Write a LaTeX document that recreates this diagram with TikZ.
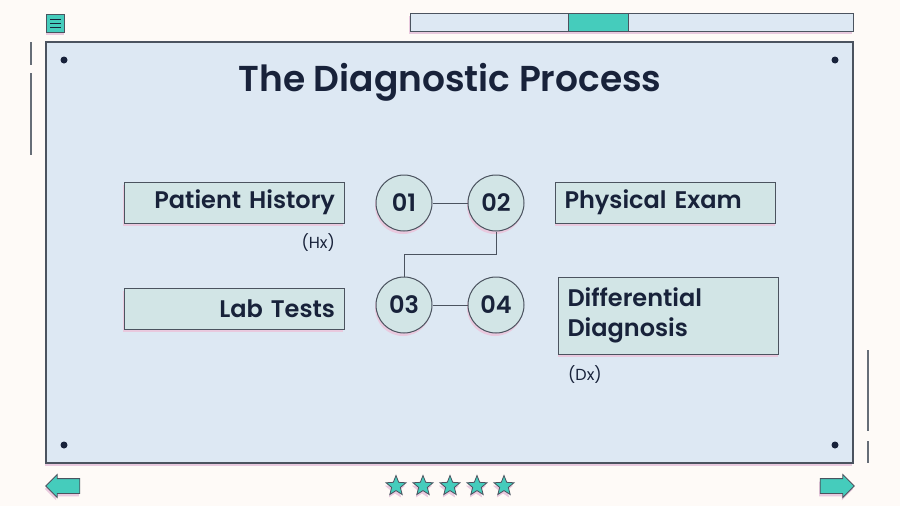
\documentclass[tikz,border=0pt]{standalone}
\usepackage{fontspec}
\setmainfont{Poppins}[BoldFont={Poppins SemiBold}]
\usetikzlibrary{positioning,shapes.geometric,shapes.arrows,calc}
\definecolor{paper}{HTML}{FEFAF7}
\definecolor{panelF}{HTML}{DDE8F3}
\definecolor{boxF}{HTML}{D2E5E6}
\definecolor{teal}{HTML}{45CCBC}
\definecolor{edge}{HTML}{4B535F}
\definecolor{ink}{HTML}{18223A}
\definecolor{blush}{HTML}{E9C9DE}
\tikzset{
  shade/.style={preaction={fill=blush, transform canvas={xshift=-1pt, yshift=-3pt}}},
  stepbox/.style={draw=edge, line width=1pt, fill=boxF, shade, text=ink,
                  minimum height=41pt, text width=202pt, inner xsep=9pt,
                  font=\bfseries\fontsize{24}{30}\selectfont},
  num/.style={circle, draw=edge, line width=1pt, fill=boxF, shade, text=ink,
              minimum size=56pt, inner sep=0pt,
              font=\bfseries\fontsize{24}{26}\selectfont},
  link/.style={draw=edge, line width=0.9pt},
  abbr/.style={text=ink, font=\fontsize{16}{18}\selectfont, inner sep=0pt},
  dot/.style={circle, fill=ink, inner sep=0pt, minimum size=7pt},
  rule/.style={draw=edge!85, line width=1.3pt},
  rating/.style={star, star points=5, star point ratio=2.3, draw=edge,
                 line width=0.8pt, fill=teal, shade, minimum size=21pt,
                 inner sep=0pt},
  navarrow/.style={single arrow, draw=edge, line width=0.8pt, fill=teal, shade,
                   minimum height=34pt, minimum width=22pt, inner xsep=0pt,
                   inner ysep=7pt, single arrow head extend=4pt},
}
\begin{document}
\begin{tikzpicture}[x=1pt, y=-1pt]
  \useasboundingbox[fill=paper] (0,0) rectangle (900,506);

  % frame, bars and page decoration
  \node[draw=edge, line width=1.2pt, fill=panelF, shade, minimum width=807pt,
        minimum height=421pt, inner sep=0pt] (panel) at (449.5,252.5) {};
  \node[draw=edge, line width=1pt, fill=panelF, shade, minimum width=443pt,
        minimum height=18pt, inner sep=0pt] (bar) at (631.5,22) {};
  \node[draw=edge, line width=1pt, fill=teal, minimum width=60pt,
        minimum height=18pt, inner sep=0pt] (barmark) at (598,22) {};
  \node[draw=edge, line width=1pt, fill=teal, shade, minimum size=18pt,
        inner sep=0pt] (menu) at (55.5,23) {};
  \foreach \dy in {-4,0,4}
    \draw[ink, line width=1pt] ($(menu.center)+(-5.5,\dy)$) -- ++(11,0);
  \draw[rule] (31,42) -- (31,65);
  \draw[rule] (31,73) -- (31,155);
  \draw[rule] (868,350) -- (868,431);
  \draw[rule] (868,441) -- (868,463);
  \foreach \cx/\cy [count=\i] in {64/60, 835/60, 64/445, 835/445}
    \node[dot] (dot\i) at (\cx,\cy) {};

  \node[text=ink, font=\bfseries\fontsize{36}{40}\selectfont] (title)
    at (450,82) {The Diagnostic Process};

  % the four steps
  \node[num] (n01) at (404,203) {01};
  \node[num] (n02) at (496,203) {02};
  \node[num] (n03) at (404,305) {03};
  \node[num] (n04) at (496,305) {04};
  \coordinate (bend) at (450,254);
  \draw[link] (n01) -- (n02);
  \draw[link] (n02.south) -- (n02.south |- bend) -| (n03.north);
  \draw[link] (n03) -- (n04);

  \node[stepbox, align=right] (hist) at (234,202.5) {Patient History};
  \node[stepbox, align=right] (lab) at (234,308.5) {Lab Tests};
  \node[stepbox, align=left] (exam) at (665.5,202.5) {Physical Exam};
  \node[stepbox, align=left, minimum height=77pt] (ddx) at (668.5,315.5)
    {Differential\\ Diagnosis};
  \node[abbr, anchor=east] (hx) at (335,243) {(Hx)};
  \node[abbr, anchor=west] (dx) at (568,375) {(Dx)};

  % footer
  \node[navarrow, shape border rotate=180] (prev) at (66.5,486) {};
  \node[navarrow] (next) at (833.5,486) {};
  \foreach \i in {0,...,4}
    \node[rating] (star\i) at (396+27*\i,486) {};
\end{tikzpicture}
\end{document}
